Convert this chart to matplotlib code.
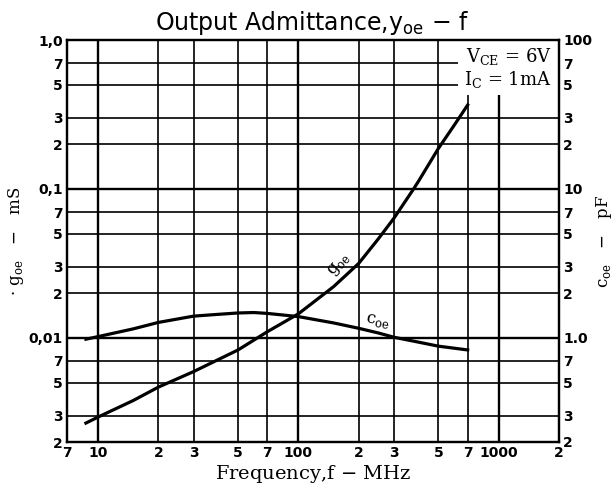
import matplotlib
matplotlib.use("Agg")
import matplotlib.pyplot as plt
from matplotlib.ticker import NullLocator, FixedLocator, FixedFormatter
from matplotlib.patches import Rectangle

# frequency grid / tick labels
x_ticks = [7, 10, 20, 30, 50, 70, 100, 200, 300, 500, 700, 1000, 2000]
x_labels = ["7", "10", "2", "3", "5", "7", "100", "2", "3", "5", "7", "1000", "2"]

yl_ticks = [0.002, 0.003, 0.005, 0.007, 0.01, 0.02, 0.03, 0.05, 0.07, 0.1, 0.2, 0.3, 0.5, 0.7, 1.0]
yl_labels = ["2", "3", "5", "7", "0,01", "2", "3", "5", "7", "0,1", "2", "3", "5", "7", "1,0"]
yr_ticks = [0.2, 0.3, 0.5, 0.7, 1.0, 2, 3, 5, 7, 10, 20, 30, 50, 70, 100]
yr_labels = ["2", "3", "5", "7", "1.0", "2", "3", "5", "7", "10", "2", "3", "5", "7", "100"]

# g_oe (mS)
f_g = [8.7, 10, 15, 20, 30, 50, 70, 100, 150, 200, 250, 300, 376, 400, 500, 600, 700]
g_oe = [0.00268, 0.00294, 0.0038, 0.00467, 0.00594, 0.0083, 0.0110, 0.0145,
        0.0221, 0.0316, 0.046, 0.0636, 0.1, 0.114, 0.187, 0.268, 0.366]

# c_oe (pF)
f_c = [8.7, 10, 15, 20, 30, 40, 50, 60, 70, 100, 150, 200, 250, 300, 400, 500, 700]
c_oe = [0.98, 1.02, 1.15, 1.27, 1.40, 1.44, 1.47, 1.48, 1.46, 1.39, 1.26, 1.16,
        1.08, 1.01, 0.935, 0.88, 0.83]

serif = "DejaVu Serif"
tickfont = dict(family="DejaVu Sans", weight="bold", size=10)

fig = plt.figure(figsize=(6.15, 4.92), dpi=100)
ax = fig.add_axes([67/615, 1-442/492, 492/615, 402/492])
ax.set_xscale("log")
ax.set_yscale("log")
ax.set_xlim(7, 2000)
ax.set_ylim(0.002, 1.0)

ax2 = ax.twinx()
ax2.set_yscale("log")
ax2.set_ylim(0.2, 100)

for a in (ax, ax2):
    a.xaxis.set_minor_locator(NullLocator())
    a.yaxis.set_minor_locator(NullLocator())
    for s in a.spines.values():
        s.set_linewidth(1.6)

ax.xaxis.set_major_locator(FixedLocator(x_ticks))
ax.xaxis.set_major_formatter(FixedFormatter(x_labels))
ax.yaxis.set_major_locator(FixedLocator(yl_ticks))
ax.yaxis.set_major_formatter(FixedFormatter(yl_labels))
ax2.yaxis.set_major_locator(FixedLocator(yr_ticks))
ax2.yaxis.set_major_formatter(FixedFormatter(yr_labels))

ax.tick_params(axis="both", length=0, pad=3)
ax2.tick_params(axis="y", length=0, pad=3)
for lab in ax.get_xticklabels() + ax.get_yticklabels() + ax2.get_yticklabels():
    lab.set_fontfamily(tickfont["family"])
    lab.set_fontweight(tickfont["weight"])
    lab.set_fontsize(tickfont["size"])

# grid
ax.grid(True, which="major", color="black", linewidth=1.2)
for v in (10, 100, 1000):
    ax.axvline(v, color="black", linewidth=1.7, zorder=1)
for v in (0.01, 0.1):
    ax.axhline(v, color="black", linewidth=1.7, zorder=1)
ax.set_axisbelow(True)

# white area behind the conditions text
ax.add_patch(Rectangle((0.794, 0.863), 0.206, 0.137, transform=ax.transAxes,
                       facecolor="white", edgecolor="none", zorder=2))
ax.text(0.985, 0.985, "V$_\\mathdefault{CE}$ = 6V\nI$_\\mathdefault{C}$ = 1mA",
        transform=ax.transAxes, ha="right", va="top", family=serif, fontsize=13,
        linespacing=1.1, zorder=3)

ax.plot(f_g, g_oe, color="black", linewidth=2.3, zorder=4)
ax2.plot(f_c, c_oe, color="black", linewidth=2.3, zorder=4)

ax.text(160, 0.031, "g$_\\mathdefault{oe}$", family=serif, fontsize=12,
        rotation=48, ha="center", va="center", zorder=5)
ax2.text(250, 1.30, "c$_\\mathdefault{oe}$", family=serif, fontsize=12,
         rotation=-10, ha="center", va="center", zorder=5)

fig.text(312/615, 1-30/492, "Output Admittance,y$_\\mathdefault{oe}$ $-$ f",
         ha="center", va="baseline", family="DejaVu Sans", fontsize=17)
ax.set_xlabel("Frequency,f $-$ MHz", family=serif, fontsize=14, labelpad=2)
ax.set_ylabel("· g$_\\mathdefault{oe}$   $-$   mS", family=serif, fontsize=12, labelpad=2)
ax2.set_ylabel("c$_\\mathdefault{oe}$   $-$   pF", family=serif, fontsize=12, labelpad=1)

fig.savefig("out.png", dpi=100)
